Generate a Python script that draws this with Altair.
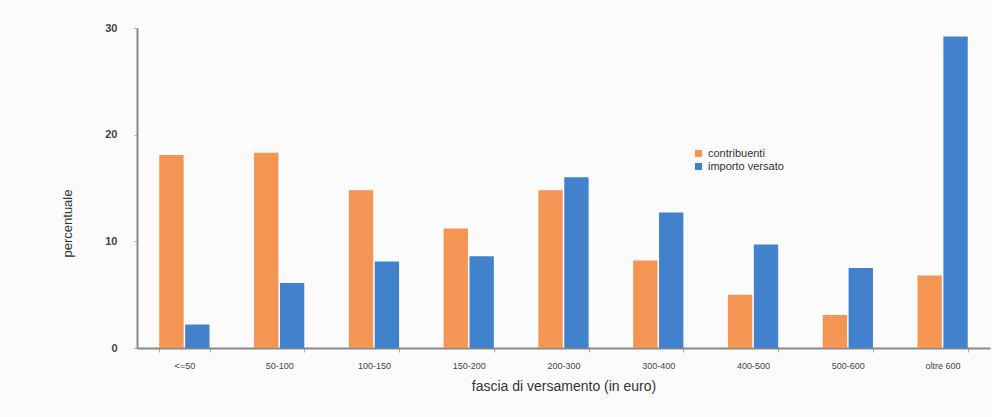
import altair as alt
import pandas as pd

categories = ["<=50", "50-100", "100-150", "150-200", "200-300", "300-400", "400-500", "500-600", "oltre 600"]
series = ["contribuenti", "importo versato"]
contribuenti = [18.1, 18.3, 14.8, 11.2, 14.8, 8.2, 5.0, 3.1, 6.8]
importo = [2.2, 6.1, 8.1, 8.6, 16.0, 12.7, 9.7, 7.5, 29.2]
colors = ["#F49553", "#4282CC"]

rows = []
for c, a, b in zip(categories, contribuenti, importo):
    rows.append({"fascia": c, "serie": series[0], "valore": a})
    rows.append({"fascia": c, "serie": series[1], "valore": b})
df = pd.DataFrame(rows)

font = "Liberation Sans"

chart = alt.Chart(df).mark_bar().encode(
    x=alt.X("fascia:N", sort=categories,
            scale=alt.Scale(paddingInner=0.47, paddingOuter=0.235),
            axis=alt.Axis(title="fascia di versamento (in euro)", labelAngle=0,
                          labelFontSize=9, labelColor="#444", labelFont=font,
                          titleFont=font, titleFontSize=14, titleFontWeight="normal",
                          titleColor="#333", titlePadding=9,
                          domainColor="#888", domainWidth=2, tickColor="#aaa",
                          tickSize=4, tickBand="extent", labelPadding=9)),
    xOffset=alt.XOffset("serie:N", sort=series, scale=alt.Scale(paddingInner=0.06)),
    y=alt.Y("valore:Q", scale=alt.Scale(domain=[0, 30]),
            axis=alt.Axis(title="percentuale", values=[0, 10, 20, 30], grid=False,
                          labelFontSize=11, labelFontWeight="bold", labelColor="#444",
                          labelFont=font, titleFont=font, titleFontSize=13,
                          titleFontWeight="normal", titleColor="#333", titlePadding=30,
                          titleY=195,
                          domainColor="#888", domainWidth=2, tickColor="#aaa",
                          tickSize=3, labelPadding=17)),
    color=alt.Color("serie:N", sort=series,
                    scale=alt.Scale(domain=series, range=colors),
                    legend=alt.Legend(title=None, orient="none", legendX=556, legendY=120,
                                      symbolType="square", symbolSize=50,
                                      labelFont=font, labelFontSize=11, labelColor="#333",
                                      rowPadding=1, symbolStrokeWidth=0)),
).properties(
    width=853, height=320,
    autosize=alt.AutoSizeParams(type="none"),
    padding={"left": 137, "top": 28, "right": 2, "bottom": 69},
    background="#fbfbfb",
).configure_view(stroke=None)

chart.save("out.html", embed_options={"renderer": "svg", "actions": False})
